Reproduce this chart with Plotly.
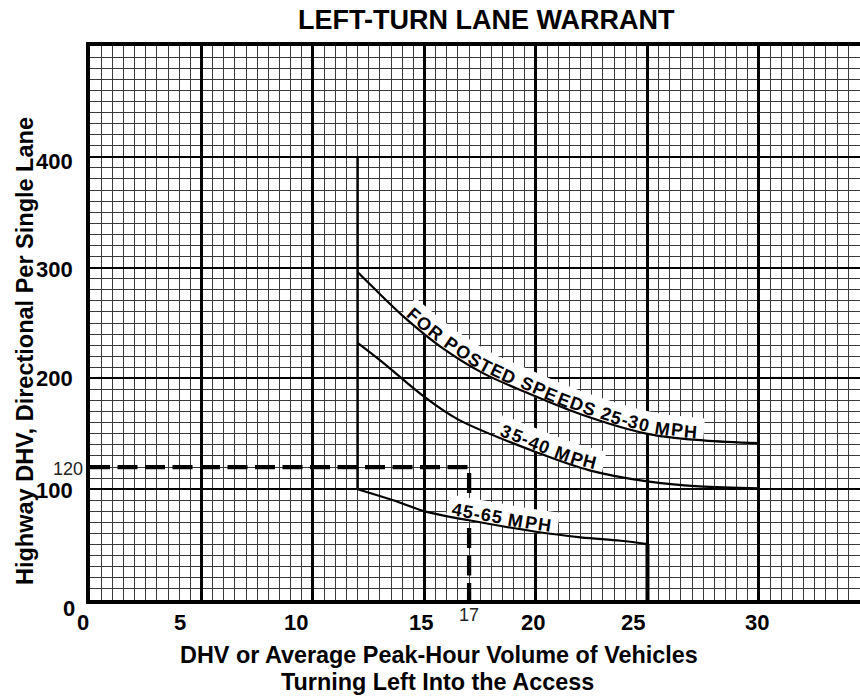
import math
import numpy as np
import plotly.graph_objects as go

# ---------------------------------------------------------------- data ----
# Left-turn volume (veh/hr) vs. highway DHV along each posted-speed curve
x_25_30 = [12.0, 12.6, 14.05, 15.7, 17.6, 19.6, 22.1, 25.0, 27.5, 30.0]
y_25_30 = [296, 284, 256, 229, 205, 187, 167, 150, 144, 141.5]

x_35_40 = [12.0, 13.15, 14.95, 16.5, 20.2, 22.4, 25.0, 27.3, 30.0]
y_35_40 = [232, 214, 184, 163, 132, 117, 107, 102.5, 100.8]

x_45_65 = [12.0, 13.6, 15.1, 17.0, 20.0, 22.0, 23.8, 25.0]
y_45_65 = [100, 90, 79.5, 72, 61.6, 56.6, 53.5, 50.5]

# Warrant region boundaries
boundary_x = [12.0, 12.0]
boundary_y = [100, 400]
cutoff_x = [25.0, 25.0]
cutoff_y = [50.5, 0]

# Worked example: 17 left turns against 120 highway DHV
example_x = 17
example_y = 120

x_ticks = [0, 5, 10, 15, 20, 25, 30]
x_tick_text = ["0", "5", "10", "15", "20", "25", "30"]
y_ticks = [0, 100, 200, 300, 400]
y_tick_text = ["0", "100", "200", "300", "400"]

speed_labels = ["FOR POSTED SPEEDS 25-30 MPH", "35-40 MPH", "45-65 MPH"]
label_start_x = [14.08, 18.3, 16.14]
label_end_x = [27.22, 22.65, 20.66]

# ------------------------------------------------------------- geometry ----
W_FIG, H_FIG = 860, 696
M_L, M_R, M_T, M_B = 90, 0, 46, 96
X_RANGE = [0.0, 34.53]
Y_RANGE = [0.0, 500.0]
PW = W_FIG - M_L - M_R
PH = H_FIG - M_T - M_B

FONT = "Liberation Sans, Arial, sans-serif"
GRID_FINE = "#3a3a3a"
x_label_shift = [-7, -21.5, -17, -3, -3, -14, -2]
y_label_shift = [(-13, -8), (-15, -1), (-15, -0.5), (-15, -1.5), (-15, -5)]


def to_px(x, y):
    x = np.asarray(x, float)
    y = np.asarray(y, float)
    px = M_L + (x - X_RANGE[0]) / (X_RANGE[1] - X_RANGE[0]) * PW
    py = M_T + (Y_RANGE[1] - y) / (Y_RANGE[1] - Y_RANGE[0]) * PH
    return px, py


def to_data(px, py):
    px = np.asarray(px, float)
    py = np.asarray(py, float)
    x = X_RANGE[0] + (px - M_L) / PW * (X_RANGE[1] - X_RANGE[0])
    y = Y_RANGE[1] - (py - M_T) / PH * (Y_RANGE[1] - Y_RANGE[0])
    return x, y


def smooth_path(xs, ys, n=24):
    """Catmull-Rom path through the curve points, in screen pixels."""
    px, py = to_px(xs, ys)
    P = np.column_stack([px, py])
    P = np.vstack([2 * P[0] - P[1], P, 2 * P[-1] - P[-2]])
    out = []
    for i in range(1, len(P) - 2):
        p0, p1, p2, p3 = P[i - 1], P[i], P[i + 1], P[i + 2]
        for t in np.linspace(0, 1, n, endpoint=False):
            t2, t3 = t * t, t * t * t
            out.append(0.5 * (2 * p1 + (-p0 + p2) * t
                              + (2 * p0 - 5 * p1 + 4 * p2 - p3) * t2
                              + (-p0 + 3 * p1 - 3 * p2 + p3) * t3))
    out.append(P[-2])
    pts = np.array(out)
    s = np.concatenate([[0.0], np.cumsum(np.hypot(*np.diff(pts, axis=0).T))])
    return pts, s


def frame(pts, s, si, win=7.0):
    x = np.interp(si, s, pts[:, 0])
    y = np.interp(si, s, pts[:, 1])
    xa, ya = np.interp(si - win, s, pts[:, 0]), np.interp(si - win, s, pts[:, 1])
    xb, yb = np.interp(si + win, s, pts[:, 0]), np.interp(si + win, s, pts[:, 1])
    tx, ty = xb - xa, yb - ya
    d = math.hypot(tx, ty)
    return x, y, tx / d, ty / d


# Arial advance widths (em) for the label glyphs
ADV = {"F": .611, "O": .778, "R": .722, " ": .278, "P": .667, "S": .667,
       "T": .611, "E": .667, "D": .722, "2": .556, "5": .556, "-": .333,
       "3": .556, "0": .556, "M": .833, "H": .722, "4": .556, "6": .556}

LABEL_SIZE = 18
BAND_H = 22.0
BASE_LIFT = 1.5


def curve_label(xs, ys, text, x_start, x_end):
    pts, s = smooth_path(xs, ys)
    sx0, _ = to_px(x_start, 0)
    sx1, _ = to_px(x_end, 0)
    s0 = float(np.interp(sx0, pts[:, 0], s))
    s1 = float(np.interp(sx1, pts[:, 0], s))

    # white band behind the lettering, sitting on the curve
    bl, bu = [], []
    for si in np.arange(s0 - 4, s1 + 7, 1.5):
        x, y, tx, ty = frame(pts, s, si)
        nx, ny = ty, -tx
        bl.append((x - nx * 1.0, y - ny * 1.0))
        bu.append((x + nx * BAND_H, y + ny * BAND_H))
    poly = np.array(bl + bu[::-1] + bl[:1])
    bx, by = to_data(poly[:, 0], poly[:, 1])
    band = go.Scatter(x=bx, y=by, mode="lines", fill="toself",
                      fillcolor="white", line=dict(width=0, color="white"),
                      hoverinfo="skip", showlegend=False)

    # lettering laid character by character along the curve
    total = sum(ADV[c] for c in text)
    scale = (s1 - s0) / total
    anns = []
    acc = s0
    for c in text:
        w = ADV[c] * scale
        sc = acc + w / 2
        acc += w
        if c == " ":
            continue
        x, y, tx, ty = frame(pts, s, sc)
        nx, ny = ty, -tx
        off = BASE_LIFT + 0.3465 * LABEL_SIZE
        cx, cy = to_data(x + nx * off, y + ny * off)
        anns.append(dict(x=float(cx), y=float(cy), xref="x", yref="y",
                         text=c, showarrow=False,
                         textangle=math.degrees(math.atan2(ty, tx)),
                         xanchor="center", yanchor="middle",
                         font=dict(family=FONT, size=LABEL_SIZE, color="black",
                                   weight="bold")))
    return band, anns


# --------------------------------------------------------------- figure ----
fig = go.Figure()

fig.add_trace(go.Scatter(
    x=[0, example_x, example_x], y=[example_y, example_y, 0], mode="lines",
    line=dict(color="black", width=4.3, dash="20px,7.5px"),
    hoverinfo="skip", showlegend=False))

curves = [(x_25_30, y_25_30), (x_35_40, y_35_40), (x_45_65, y_45_65)]
label_anns = []
for (xs, ys), txt, xa, xb in zip(curves, speed_labels, label_start_x, label_end_x):
    band, anns = curve_label(xs, ys, txt, xa, xb)
    fig.add_trace(band)
    label_anns += anns

fig.add_trace(go.Scatter(x=boundary_x, y=boundary_y, mode="lines",
                         line=dict(color="black", width=2.5),
                         hoverinfo="skip", showlegend=False))
fig.add_trace(go.Scatter(x=cutoff_x, y=cutoff_y, mode="lines",
                         line=dict(color="black", width=4),
                         hoverinfo="skip", showlegend=False))
for xs, ys in curves:
    fig.add_trace(go.Scatter(x=xs, y=ys, mode="lines",
                             line=dict(color="black", width=2.2, shape="spline"),
                             hoverinfo="skip", showlegend=False))

annotations = list(label_anns)

tick_font = dict(family=FONT, size=22, color="black", weight="bold")
for xv, txt, sh in zip(x_ticks, x_tick_text, x_label_shift):
    annotations.append(dict(x=xv, y=0, xref="x", yref="paper", text=txt,
                            showarrow=False, xanchor="center", yanchor="middle",
                            xshift=sh, yshift=-22, font=tick_font))
for yv, txt, (sx, sy) in zip(y_ticks, y_tick_text, y_label_shift):
    annotations.append(dict(x=0, y=yv, xref="paper", yref="y", text=txt,
                            showarrow=False, xanchor="right", yanchor="middle",
                            xshift=sx, yshift=sy, font=tick_font))

annotations += [
    dict(x=0, y=example_y, xref="x", yref="y", text=str(example_y),
         showarrow=False, xanchor="right", yanchor="middle", xshift=-5,
         yshift=-1.5, font=dict(family=FONT, size=18, color="#222")),
    dict(x=example_x, y=0, xref="x", yref="y", text=str(example_x),
         showarrow=False, xanchor="center", yanchor="middle", yshift=-14.5,
         font=dict(family=FONT, size=18, color="#222")),
    dict(x=(486.5 - M_L) / PW, y=(H_FIG - M_B - 20) / PH, xref="paper",
         yref="paper", text="LEFT-TURN LANE WARRANT", showarrow=False,
         xanchor="center", yanchor="middle",
         font=dict(family=FONT, size=27, color="black", weight="bold")),
    dict(x=(25 - M_L) / PW, y=(H_FIG - M_B - 351) / PH, xref="paper",
         yref="paper", text="Highway DHV, Directional Per Single Lane",
         showarrow=False, textangle=-90, xanchor="center", yanchor="middle",
         font=dict(family=FONT, size=23.5, color="black", weight="bold")),
    dict(x=(438.5 - M_L) / PW, y=(H_FIG - M_B - 655) / PH, xref="paper",
         yref="paper", text="DHV or Average Peak-Hour Volume of Vehicles",
         showarrow=False, xanchor="center", yanchor="middle",
         font=dict(family=FONT, size=23.4, color="black", weight="bold")),
    dict(x=(437.5 - M_L) / PW, y=(H_FIG - M_B - 682.5) / PH, xref="paper",
         yref="paper", text="Turning Left Into the Access",
         showarrow=False, xanchor="center", yanchor="middle",
         font=dict(family=FONT, size=23.4, color="black", weight="bold")),
]

fig.update_layout(
    width=W_FIG, height=H_FIG,
    margin=dict(l=M_L, r=M_R, t=M_T, b=M_B, pad=0),
    paper_bgcolor="white", plot_bgcolor="white",
    showlegend=False,
    annotations=annotations,
    xaxis=dict(range=X_RANGE, tick0=0, dtick=5, showticklabels=False,
               ticks="", showgrid=True, gridcolor="black", gridwidth=2.5,
               zeroline=False, showline=True, linecolor="black", linewidth=4,
               mirror=True, automargin=False, fixedrange=True,
               minor=dict(dtick=0.5, showgrid=True, gridcolor=GRID_FINE,
                          gridwidth=1, ticks="")),
    yaxis=dict(range=Y_RANGE, tickmode="array", tickvals=y_ticks,
               showticklabels=False, ticks="",
               showgrid=True, gridcolor="black", gridwidth=2.2,
               zeroline=False, showline=True, linecolor="black", linewidth=4,
               mirror=False, automargin=False, fixedrange=True,
               minor=dict(dtick=10, showgrid=True, gridcolor=GRID_FINE,
                          gridwidth=1, ticks="")),
)

fig.write_html("out.html")
